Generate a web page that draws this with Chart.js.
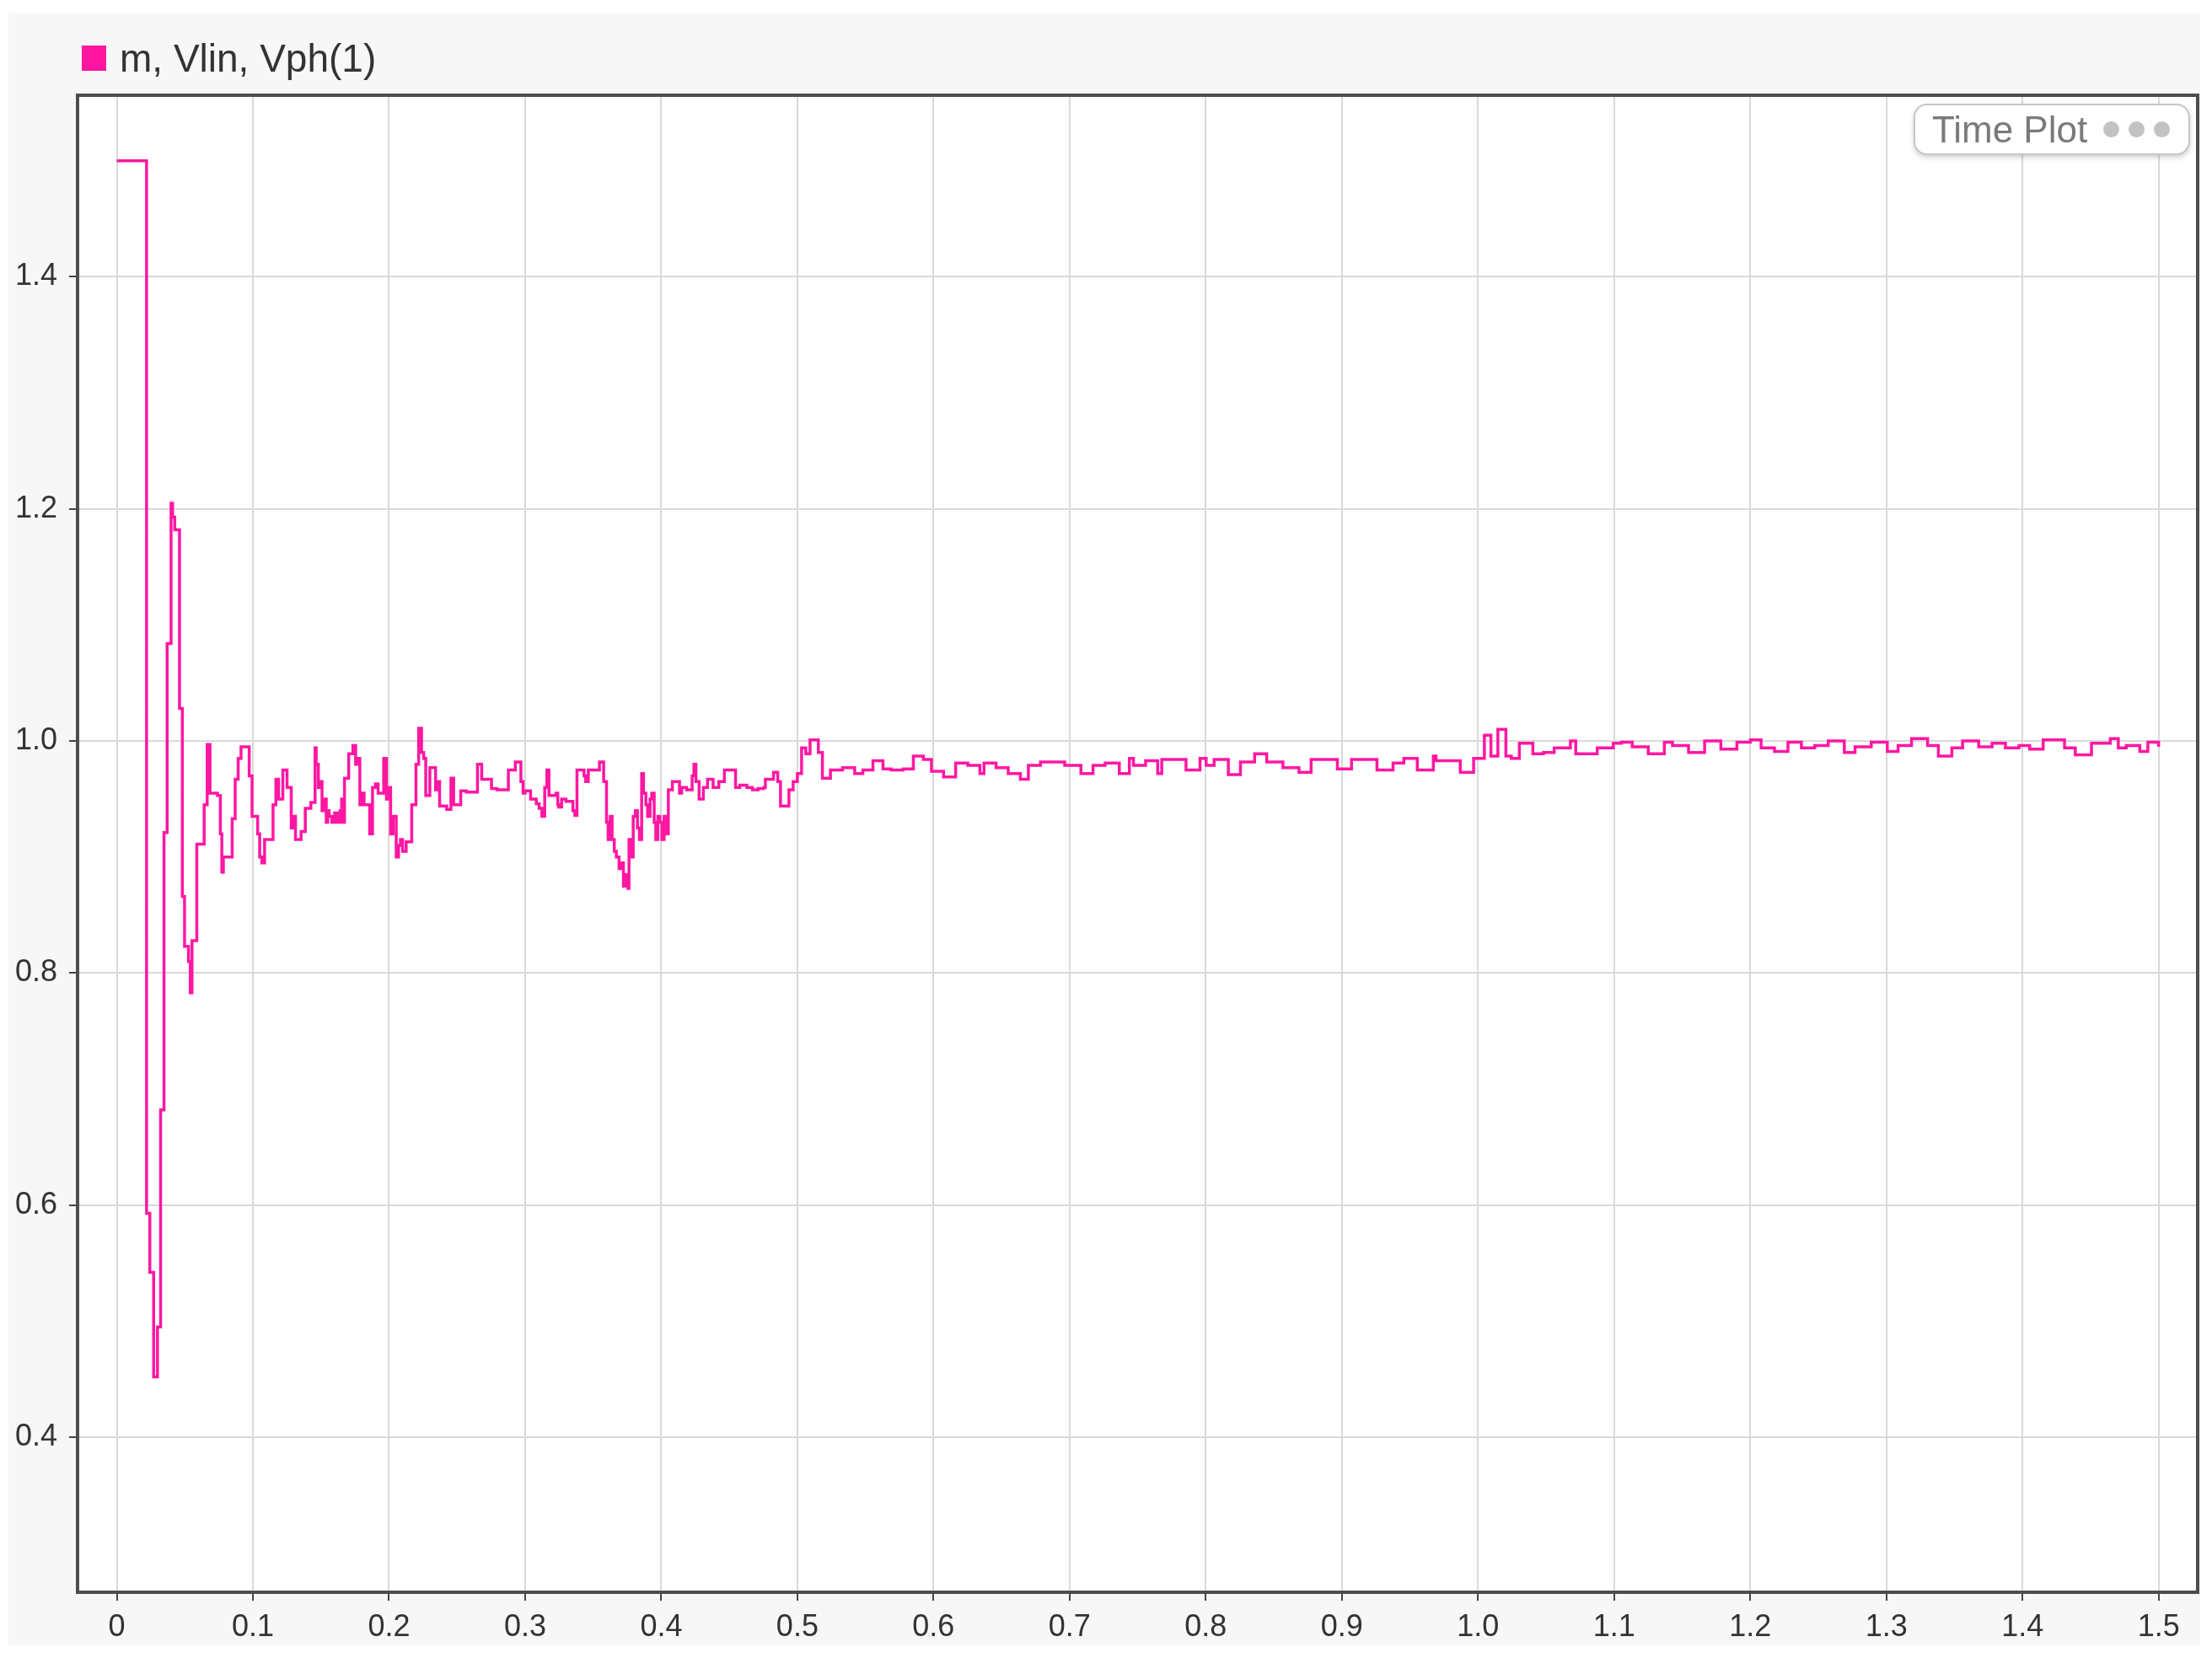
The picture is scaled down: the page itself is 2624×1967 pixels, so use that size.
<!DOCTYPE html>
<html>
<head>
<meta charset="utf-8">
<script src="https://cdn.jsdelivr.net/npm/chart.js@4.4.0/dist/chart.umd.min.js"></script>
<style>
  html, body { margin: 0; padding: 0; background: #fff; }
  body { width: 2624px; height: 1967px; position: relative; overflow: hidden; font-family: "Liberation Sans", Arial, sans-serif; }
  #chart { position: absolute; left: 0; top: 0; }
  #legend { position: absolute; left: 97px; top: 46px; height: 46px; display: flex; align-items: center; font-size: 46px; color: #333; }
  #legend .sw { width: 29px; height: 30px; background: #ff17a2; margin-right: 16px; }
  #timeplot { position: absolute; left: 2270px; top: 123px; width: 328px; height: 61px; box-sizing: border-box;
    border: 2px solid #c6c6c6; border-radius: 16px; background: #fff; box-shadow: 0 3px 6px rgba(0,0,0,0.18);
    display: flex; align-items: center; padding-left: 20px; font-size: 44px; color: #7a7a7a; }
  #timeplot .dot { display: inline-block; width: 19px; height: 19px; border-radius: 50%; background: #c2c2c2; margin-left: 11px; }
  #timeplot .dots { margin-left: 8px; display: flex; }
</style>
</head>
<body>
<canvas id="chart" width="2624" height="1967"></canvas>
<div id="legend"><span class="sw"></span><span>m, Vlin, Vph(1)</span></div>
<div id="timeplot"><span>Time Plot</span><span class="dots"><span class="dot"></span><span class="dot"></span><span class="dot"></span></span></div>
<script>
// signal name
const seriesName = 'm, Vlin, Vph(1)';

// axis ticks
const xTickValues = [0, 0.1, 0.2, 0.3, 0.4, 0.5, 0.6, 0.7, 0.8, 0.9, 1.0, 1.1, 1.2, 1.3, 1.4, 1.5];
const xTickLabels = ['0', '0.1', '0.2', '0.3', '0.4', '0.5', '0.6', '0.7', '0.8', '0.9', '1.0', '1.1', '1.2', '1.3', '1.4', '1.5'];
const yTickValues = [0.4, 0.6, 0.8, 1.0, 1.2, 1.4];
const yTickLabels = ['0.4', '0.6', '0.8', '1.0', '1.2', '1.4'];

// sample times (s) where the held value changes
const timeSec = [
  0, 0.0219, 0.0243, 0.0271, 0.0299, 0.0322, 0.0347, 0.0370, 0.0399, 0.0410,
  0.0426, 0.0461, 0.0482, 0.0498, 0.0527, 0.0540, 0.0553, 0.0588, 0.0642, 0.0664,
  0.0685, 0.0740, 0.0761, 0.0772, 0.0783, 0.0848, 0.0870, 0.0892, 0.0913, 0.0973,
  0.0994, 0.1035, 0.1050, 0.1066, 0.1086, 0.1148, 0.1169, 0.1189, 0.1220, 0.1251,
  0.1282, 0.1300, 0.1313, 0.1354, 0.1385, 0.1426, 0.1457, 0.1465, 0.1481, 0.1495,
  0.1508, 0.1520, 0.1539, 0.1550, 0.1560, 0.1580, 0.1601, 0.1620, 0.1640, 0.1652,
  0.1660, 0.1673, 0.1704, 0.1735, 0.1755, 0.1770, 0.1786, 0.1800, 0.1817, 0.1858,
  0.1879, 0.1900, 0.1920, 0.1961, 0.1981, 0.1995, 0.2012, 0.2030, 0.2053, 0.2070,
  0.2084, 0.2100, 0.2126, 0.2167, 0.2198, 0.2218, 0.2239, 0.2255, 0.2270, 0.2300,
  0.2342, 0.2355, 0.2372, 0.2424, 0.2455, 0.2475, 0.2527, 0.2568, 0.2650, 0.2681,
  0.2753, 0.2794, 0.2877, 0.2928, 0.2969, 0.2985, 0.3000, 0.3040, 0.3082, 0.3103,
  0.3123, 0.3144, 0.3160, 0.3175, 0.3227, 0.3240, 0.3247, 0.3268, 0.3300, 0.3351,
  0.3365, 0.3381, 0.3433, 0.3445, 0.3464, 0.3546, 0.3577, 0.3598, 0.3610, 0.3625,
  0.3639, 0.3655, 0.3670, 0.3690, 0.3701, 0.3722, 0.3740, 0.3755, 0.3763, 0.3780,
  0.3794, 0.3810, 0.3825, 0.3840, 0.3856, 0.3870, 0.3887, 0.3900, 0.3918, 0.3930,
  0.3948, 0.3960, 0.3975, 0.3990, 0.4005, 0.4021, 0.4035, 0.4052, 0.4082, 0.4134,
  0.4150, 0.4186, 0.4227, 0.4240, 0.4255, 0.4278, 0.4309, 0.4340, 0.4381, 0.4423,
  0.4464, 0.4546, 0.4577, 0.4629, 0.4670, 0.4711, 0.4753, 0.4765, 0.4825, 0.4856,
  0.4876, 0.4938, 0.4969, 0.5000, 0.5031, 0.5062, 0.5093, 0.5154, 0.5184, 0.5243,
  0.5332, 0.5421, 0.5481, 0.5555, 0.5629, 0.5688, 0.5777, 0.5852, 0.5926, 0.5985,
  0.6074, 0.6163, 0.6252, 0.6341, 0.6371, 0.6460, 0.6549, 0.6638, 0.6697, 0.6786,
  0.6964, 0.7083, 0.7172, 0.7261, 0.7365, 0.7439, 0.7469, 0.7558, 0.7647, 0.7677,
  0.7855, 0.7958, 0.8003, 0.8062, 0.8166, 0.8255, 0.8359, 0.8448, 0.8567, 0.8685,
  0.8774, 0.8967, 0.9071, 0.9258, 0.9376, 0.9455, 0.9554, 0.9672, 0.9692, 0.9870,
  0.9968, 1.0047, 1.0095, 1.0146, 1.0205, 1.0245, 1.0304, 1.0403, 1.0481, 1.0560,
  1.0679, 1.0718, 1.0876, 1.0994, 1.1054, 1.1133, 1.1251, 1.1369, 1.1429, 1.1547,
  1.1665, 1.1784, 1.1902, 1.2001, 1.2080, 1.2178, 1.2277, 1.2376, 1.2474, 1.2573,
  1.2691, 1.2770, 1.2889, 1.3007, 1.3086, 1.3185, 1.3303, 1.3382, 1.3481, 1.3560,
  1.3678, 1.3777, 1.3875, 1.3974, 1.4053, 1.4152, 1.4309, 1.4388, 1.4507, 1.4645,
  1.4704, 1.4763, 1.4862, 1.4921, 1.5000
];

// held value from each sample time on
const signalValue = [
  1.5, 0.593, 0.542, 0.452, 0.495, 0.682, 0.921, 1.084, 1.205, 1.193,
  1.182, 1.028, 0.866, 0.823, 0.810, 0.783, 0.828, 0.911, 0.945, 0.997,
  0.955, 0.953, 0.920, 0.887, 0.900, 0.933, 0.967, 0.985, 0.995, 0.970,
  0.935, 0.920, 0.900, 0.895, 0.915, 0.945, 0.967, 0.950, 0.975, 0.960,
  0.925, 0.935, 0.915, 0.922, 0.942, 0.947, 0.994, 0.980, 0.960, 0.965,
  0.940, 0.950, 0.930, 0.940, 0.935, 0.930, 0.938, 0.930, 0.940, 0.950,
  0.930, 0.968, 0.989, 0.996, 0.980, 0.985, 0.945, 0.955, 0.945, 0.920,
  0.960, 0.963, 0.955, 0.985, 0.950, 0.960, 0.920, 0.935, 0.900, 0.910,
  0.915, 0.905, 0.913, 0.945, 0.980, 1.011, 0.990, 0.985, 0.953, 0.977,
  0.958, 0.965, 0.944, 0.941, 0.968, 0.945, 0.957, 0.956, 0.980, 0.967,
  0.959, 0.958, 0.975, 0.982, 0.965, 0.955, 0.957, 0.950, 0.946, 0.942,
  0.935, 0.960, 0.975, 0.953, 0.955, 0.945, 0.943, 0.950, 0.948, 0.940,
  0.936, 0.975, 0.970, 0.965, 0.975, 0.982, 0.965, 0.930, 0.915, 0.935,
  0.915, 0.905, 0.900, 0.890, 0.895, 0.875, 0.885, 0.873, 0.915, 0.900,
  0.935, 0.940, 0.925, 0.915, 0.972, 0.955, 0.945, 0.935, 0.950, 0.955,
  0.930, 0.915, 0.935, 0.930, 0.915, 0.935, 0.920, 0.958, 0.965, 0.955,
  0.960, 0.958, 0.970, 0.980, 0.965, 0.950, 0.960, 0.967, 0.960, 0.965,
  0.975, 0.960, 0.962, 0.960, 0.958, 0.959, 0.960, 0.967, 0.973, 0.965,
  0.944, 0.958, 0.965, 0.972, 0.994, 0.989, 1.001, 0.990, 0.968, 0.975,
  0.977, 0.972, 0.975, 0.983, 0.976, 0.975, 0.976, 0.987, 0.984, 0.974,
  0.969, 0.981, 0.979, 0.972, 0.981, 0.977, 0.972, 0.967, 0.979, 0.982,
  0.979, 0.972, 0.979, 0.981, 0.972, 0.985, 0.979, 0.983, 0.972, 0.984,
  0.975, 0.985, 0.979, 0.984, 0.971, 0.982, 0.989, 0.982, 0.977, 0.973,
  0.984, 0.976, 0.984, 0.975, 0.981, 0.985, 0.975, 0.987, 0.983, 0.973,
  0.985, 1.005, 0.987, 1.010, 0.987, 0.985, 0.998, 0.989, 0.990, 0.994,
  1.000, 0.989, 0.994, 0.998, 0.999, 0.995, 0.989, 0.999, 0.996, 0.990,
  1.000, 0.993, 0.999, 1.001, 0.994, 0.991, 0.999, 0.994, 0.996, 1.000,
  0.990, 0.995, 0.999, 0.991, 0.996, 1.002, 0.996, 0.987, 0.994, 1.000,
  0.995, 0.998, 0.994, 0.996, 0.993, 1.001, 0.994, 0.988, 0.998, 1.002,
  0.994, 0.996, 0.991, 0.999, 0.995
];

const lineColor = '#ff17a2';

// gray panel, white plot area and dark frame
const framePlugin = {
  id: 'frame',
  beforeDraw(chart) {
    const { ctx, chartArea: a } = chart;
    ctx.save();
    ctx.fillStyle = '#ffffff';
    ctx.fillRect(0, 0, chart.width, chart.height);
    ctx.fillStyle = '#f7f7f7';
    ctx.fillRect(10, 15, 2600, 1937);
    ctx.fillStyle = '#ffffff';
    ctx.fillRect(a.left, a.top, a.right - a.left, a.bottom - a.top);
    ctx.restore();
  },
  afterDraw(chart) {
    const { ctx, chartArea: a } = chart;
    ctx.save();
    ctx.strokeStyle = '#4d4d4d';
    ctx.lineWidth = 4;
    ctx.strokeRect(a.left, a.top, a.right - a.left, a.bottom - a.top);
    ctx.restore();
  }
};

const tickFont = { family: '"Liberation Sans", Arial, sans-serif', size: 36 };

new Chart(document.getElementById('chart'), {
  type: 'line',
  data: {
    datasets: [{
      label: seriesName,
      data: timeSec.map((t, i) => ({ x: t, y: signalValue[i] })),
      borderColor: lineColor,
      backgroundColor: lineColor,
      borderWidth: 3.5,
      pointRadius: 0,
      stepped: true,
      fill: false
    }]
  },
  options: {
    responsive: false,
    devicePixelRatio: 1,
    animation: false,
    layout: { padding: { left: 0, top: 113, right: 17, bottom: 15 } },
    plugins: {
      legend: { display: false },
      tooltip: { enabled: false }
    },
    scales: {
      x: {
        type: 'linear',
        min: -0.0288,
        max: 1.5287,
        afterBuildTicks: s => { s.ticks = xTickValues.map(v => ({ value: v })); },
        afterFit: s => { s.height = 63; },
        border: { display: false },
        grid: { color: '#d9d9d9', lineWidth: 2, drawTicks: true, tickLength: 10, tickColor: '#444', tickWidth: 2 },
        ticks: {
          autoSkip: false, maxRotation: 0, padding: 10, color: '#333', font: tickFont,
          callback: (v, i) => xTickLabels[i]
        }
      },
      y: {
        min: 0.2664,
        max: 1.5565,
        afterBuildTicks: s => { s.ticks = yTickValues.map(v => ({ value: v })); },
        afterFit: s => { s.width = 92; },
        border: { display: false },
        grid: { color: '#d9d9d9', lineWidth: 2, drawTicks: true, tickLength: 10, tickColor: '#444', tickWidth: 2 },
        ticks: {
          autoSkip: false, padding: 14, color: '#333', font: tickFont,
          callback: (v, i) => yTickLabels[i]
        }
      }
    }
  },
  plugins: [framePlugin]
});
</script>
</body>
</html>
